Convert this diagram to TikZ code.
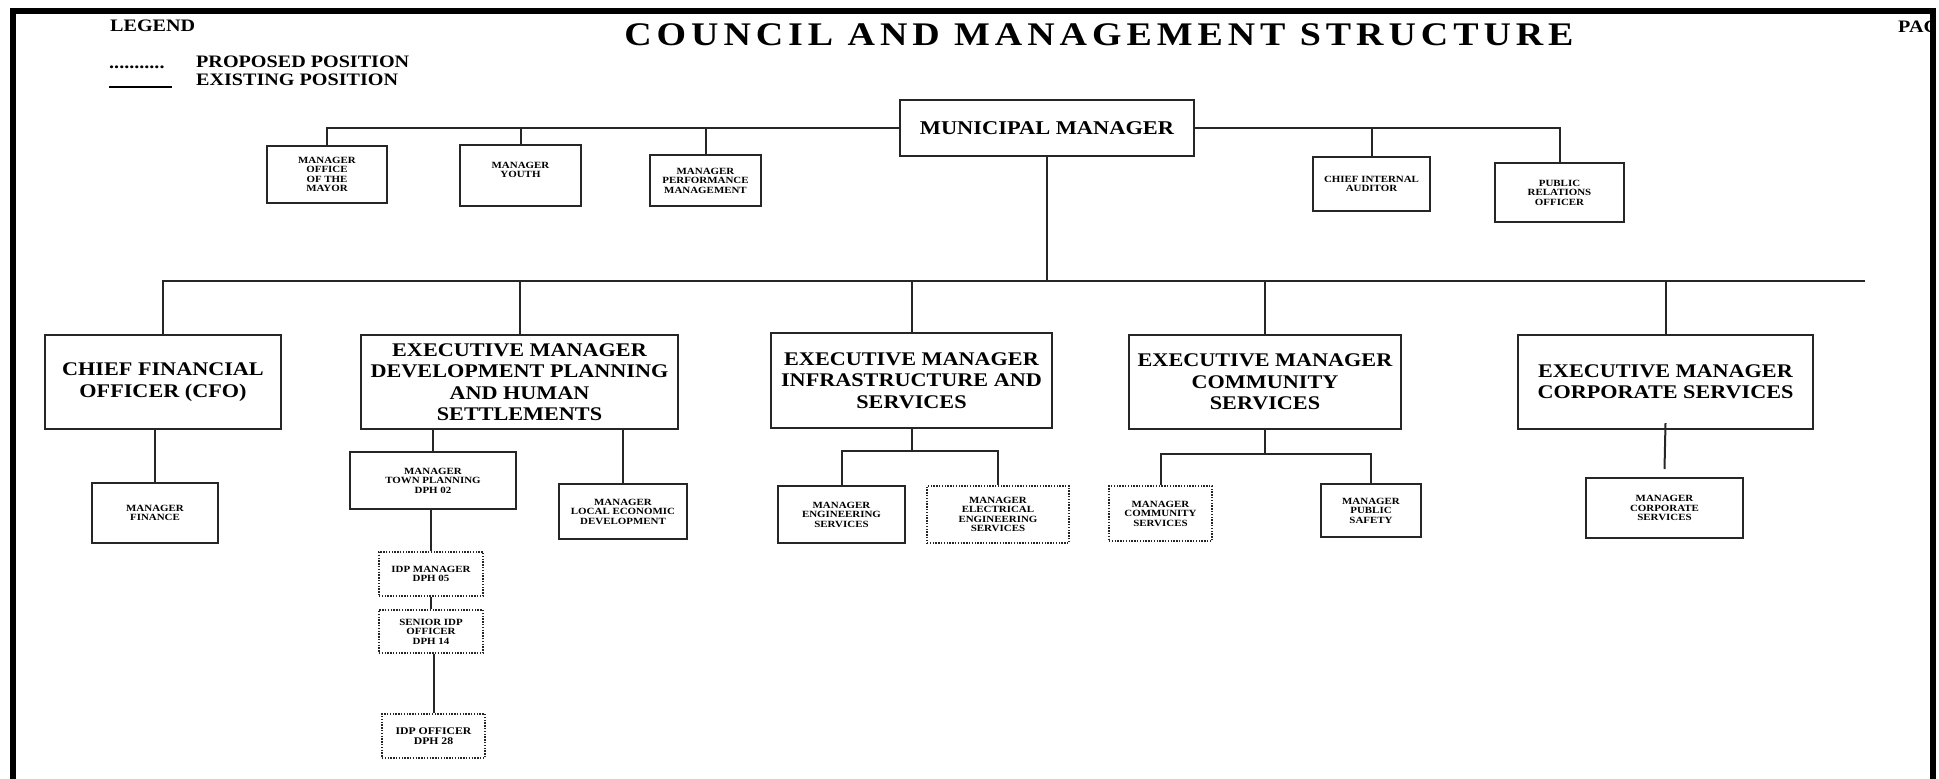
\documentclass[tikz,border=0pt]{standalone}
\usepackage{fontspec}
\setmainfont{Liberation Serif}[FakeStretch=1.15]
\newfontfamily\titlefont{Liberation Serif}[FakeStretch=1.15,LetterSpace=15]
\tikzset{
  ln/.style={line width=2pt, draw=black!85},
  sbox/.style={draw=black!85, line width=2pt, inner sep=0pt, align=center,
    font=\fontsize{9.5}{9.5}\selectfont\bfseries},
  pbox/.style={sbox, dash pattern=on 1.4pt off 1.4pt},
  ebox/.style={draw=black!85, line width=2.2pt, inner sep=0pt, align=center,
    font=\fontsize{19.3}{21.5}\selectfont\bfseries},
  lgtext/.style={inner sep=0pt, font=\fontsize{17.5}{18}\selectfont\bfseries},
}
\begin{document}
\begin{tikzpicture}[x=1pt,y=-1pt]
\useasboundingbox (0,0) rectangle (1939,779);
% frame
\fill[black] (10,8) rectangle (1936,14);
\fill[black] (10,8) rectangle (16,779);
\fill[black] (1930,8) rectangle (1936,779);

% header texts
\node[lgtext, anchor=west] (legend) at (110,26) {LEGEND};
\node[inner sep=0pt, font=\titlefont\bfseries\fontsize{33}{33}\selectfont] (title) at (1099,35) {COUNCIL AND MANAGEMENT STRUCTURE};
\begin{scope}
  \clip (16,0) rectangle (1930,779);
  \node[lgtext, anchor=west] (page) at (1898,27) {PAGE};
\end{scope}
\node[lgtext, anchor=base west] (dots) at (109,68) {...........};
\node[lgtext, anchor=west] (prop) at (196,62) {PROPOSED POSITION};
\coordinate (e1) at (109,87);
\coordinate (e2) at (172,87);
\draw[line width=1.4pt] (e1) -- (e2);
\node[lgtext, anchor=west] (exist) at (196,80) {EXISTING POSITION};

% top row
\node[sbox, minimum width=294, minimum height=56, font=\fontsize{19.5}{19.5}\selectfont\bfseries] (mm) at (1047,128) {MUNICIPAL MANAGER};
\node[sbox, minimum width=120, minimum height=57] (mayor) at (327,174.5) {MANAGER\\OFFICE\\OF THE\\MAYOR};
\node[sbox, minimum width=121, minimum height=61,
  label={[name=youthtxt, align=center, inner sep=0pt, yshift=5.5pt, font=\fontsize{9.5}{9.5}\selectfont\bfseries]center:{MANAGER\\YOUTH}}] (youth) at (520.5,175.5) {};
\node[sbox, minimum width=111, minimum height=51] (perf) at (705.5,180.5) {MANAGER\\PERFORMANCE\\MANAGEMENT};
\node[sbox, minimum width=117, minimum height=54] (cia) at (1371.5,184) {CHIEF INTERNAL\\AUDITOR};
\node[sbox, minimum width=129, minimum height=59] (pro) at (1559.5,192.5) {PUBLIC\\RELATIONS\\OFFICER};

\draw[ln] (mayor.north) |- (mm.west);
\draw[ln] (youth.north) -- (youth.north |- mm.west);
\draw[ln] (perf.north) -- (perf.north |- mm.west);
\draw[ln] (mm.east) -| (pro.north);
\draw[ln] (cia.north) -- (cia.north |- mm.east);

% executive row
\node[ebox, minimum width=236, minimum height=94] (cfo) at (163,382) {CHIEF FINANCIAL\\OFFICER (CFO)};
\node[ebox, minimum width=317, minimum height=94] (dphs) at (519.5,382) {EXECUTIVE MANAGER\\DEVELOPMENT PLANNING\\AND HUMAN\\SETTLEMENTS};
\node[ebox, minimum width=281, minimum height=95] (infra) at (911.5,380.5) {EXECUTIVE MANAGER\\INFRASTRUCTURE AND\\SERVICES};
\node[ebox, minimum width=272, minimum height=94] (comm) at (1265,382) {EXECUTIVE MANAGER\\COMMUNITY\\SERVICES};
\node[ebox, minimum width=295, minimum height=94] (corp) at (1665.5,382) {EXECUTIVE MANAGER\\CORPORATE SERVICES};

\coordinate (rend) at (1865,281);
\draw[ln] (mm.south) -- (mm.south |- rend);
\draw[ln] (cfo.north) |- (rend);
\draw[ln] (dphs.north) -- (dphs.north |- rend);
\draw[ln] (infra.north) -- (infra.north |- rend);
\draw[ln] (comm.north) -- (comm.north |- rend);
\draw[ln] (corp.north) -- (corp.north |- rend);

% third row
\node[sbox, minimum width=126, minimum height=60] (finance) at (155,513) {MANAGER\\FINANCE};
\node[sbox, minimum width=166, minimum height=57] (tp) at (433,480.5) {MANAGER\\TOWN PLANNING\\DPH 02};
\node[sbox, minimum width=128, minimum height=55] (led) at (623,511.5) {MANAGER\\LOCAL ECONOMIC\\DEVELOPMENT};
\node[sbox, minimum width=127, minimum height=57] (eng) at (841.5,514.5) {MANAGER\\ENGINEERING\\SERVICES};
\node[pbox, minimum width=142, minimum height=57] (elec) at (998,514.5) {MANAGER\\ELECTRICAL\\ENGINEERING\\SERVICES};
\node[pbox, minimum width=103, minimum height=55] (commsvc) at (1160.5,513.5) {MANAGER\\COMMUNITY\\SERVICES};
\node[sbox, minimum width=100, minimum height=53] (safety) at (1371,510.5) {MANAGER\\PUBLIC\\SAFETY};
\node[sbox, minimum width=157, minimum height=60] (corpsvc) at (1664.5,508) {MANAGER\\CORPORATE\\SERVICES};

\draw[ln] (finance.north) -- (finance.north |- cfo.south);
\draw[ln] (tp.north) -- (tp.north |- dphs.south);
\draw[ln] (led.north) -- (led.north |- dphs.south);

\coordinate (ib) at (900,451);
\draw[ln] (infra.south) -- (infra.south |- ib);
\draw[ln] (eng.north) -- (eng.north |- ib) -- (elec.north |- ib) -- (elec.north);

\coordinate (cb) at (1260,454);
\draw[ln] (comm.south) -- (comm.south |- cb);
\draw[ln] (commsvc.north) -- (commsvc.north |- cb) -- (safety.north |- cb) -- (safety.north);

\draw[ln] ([yshift=7pt]corp.south) -- ([yshift=8pt]corpsvc.north);

% IDP column
\node[pbox, minimum width=104, minimum height=44] (idpm) at (431,574) {IDP MANAGER\\DPH 05};
\node[pbox, minimum width=104, minimum height=43] (sidp) at (431,631.5) {SENIOR IDP\\OFFICER\\DPH 14};
\node[pbox, minimum width=103, minimum height=44, font=\fontsize{10.2}{10.2}\selectfont\bfseries] (idpo) at (433.5,736) {IDP OFFICER\\DPH 28};

\draw[ln] (idpm.north) -- (idpm.north |- tp.south);
\draw[ln] (sidp.north) -- (idpm.south);
\draw[ln] (idpo.north) -- (idpo.north |- sidp.south);
\end{tikzpicture}
\end{document}
